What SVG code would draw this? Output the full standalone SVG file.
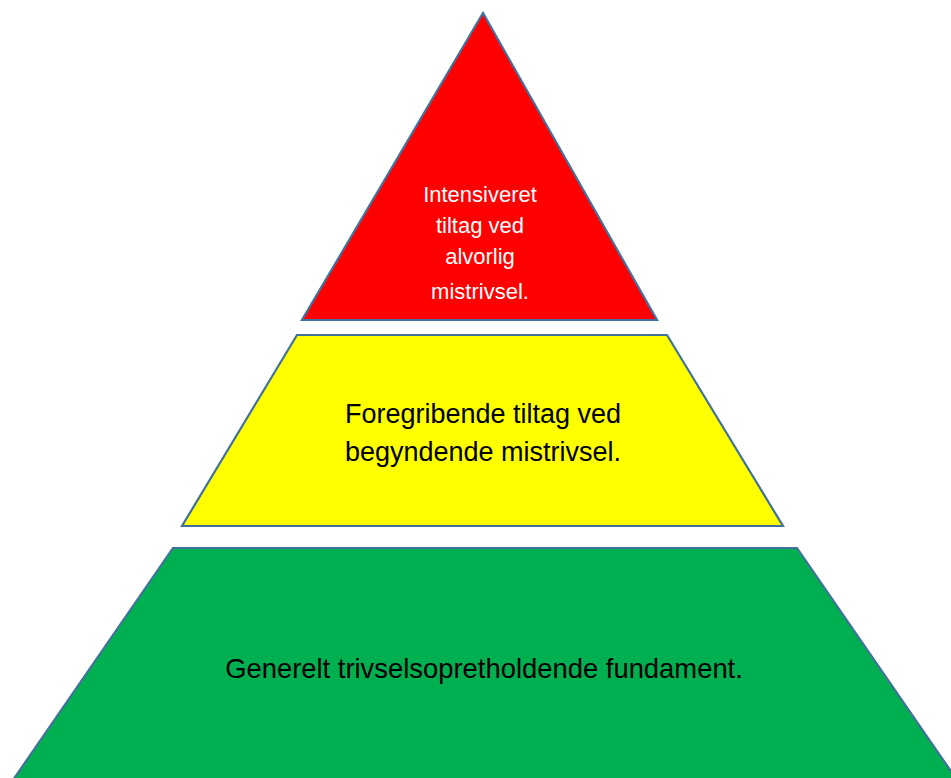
<svg xmlns="http://www.w3.org/2000/svg" width="951" height="778" viewBox="0 0 951 778">
<style>
.tier{stroke:#41719C;stroke-width:2.2;stroke-linejoin:miter}
.t{font-family:"Liberation Sans",Arial,sans-serif;text-anchor:middle}
</style>
<rect width="951" height="778" fill="#FFFFFF"/>
<g id="top">
<polygon class="tier" fill="#FF0000" points="483,13 302,320 657,320"/>
<text class="t" fill="#FFFFFF" font-size="22" x="480" y="202">Intensiveret</text>
<text class="t" fill="#FFFFFF" font-size="22" x="480" y="233">tiltag ved</text>
<text class="t" fill="#FFFFFF" font-size="22" x="480" y="264">alvorlig</text>
<text class="t" fill="#FFFFFF" font-size="22" x="480" y="299">mistrivsel.</text>
</g>
<g id="middle">
<polygon class="tier" fill="#FFFF00" points="297,335 667,335 783,526 182,526"/>
<text class="t" fill="#000000" font-size="27" x="483" y="423">Foregribende tiltag ved</text>
<text class="t" fill="#000000" font-size="27" x="483" y="461">begyndende mistrivsel.</text>
</g>
<g id="bottom">
<polygon class="tier" fill="#00B050" points="173,548 797,548 957,780 13,780"/>
<text class="t" fill="#000000" font-size="27.4" x="484" y="678">Generelt trivselsopretholdende fundament.</text>
</g>
<g id="connectors"></g>
</svg>
